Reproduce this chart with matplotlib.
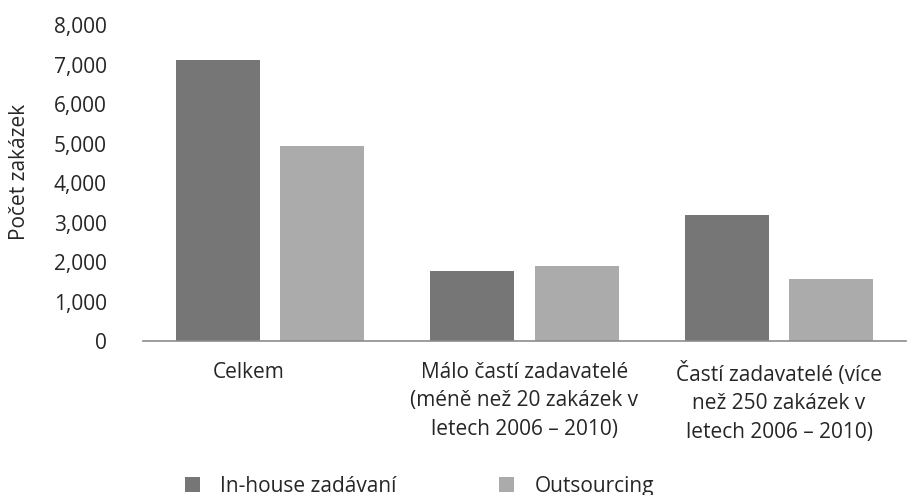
import matplotlib.pyplot as plt
import matplotlib.transforms as mtransforms
from matplotlib.ticker import FuncFormatter

categories = [
    "Celkem",
    "Málo častí zadavatelé\n(méně než 20 zakázek v\nletech 2006 – 2010)",
    "Častí zadavatelé (více\nnež 250 zakázek v\nletech 2006 – 2010)",
]
inhouse = [7120, 1780, 3180]
outsourcing = [4930, 1900, 1570]
series_labels = ["In-house zadávaní", "Outsourcing"]

plt.rcParams['font.family'] = ['Open Sans', 'DejaVu Sans']
text_color = "#262626"
fs = 15

fig = plt.figure(figsize=(9.09, 4.95), dpi=100)
ax = fig.add_axes([0.157, 0.311, 0.840, 0.6385])

x = list(range(len(categories)))
w = 0.33
off = 0.206
ax.bar([i - off for i in x], inhouse, width=w, color="#767676", label=series_labels[0])
ax.bar([i + off for i in x], outsourcing, width=w, color="#ababab", label=series_labels[1])

ax.set_xlim(-0.5, 2.5)
ax.set_ylim(0, 8000)
ax.set_yticks(range(0, 8001, 1000))
ax.yaxis.set_major_formatter(FuncFormatter(lambda v, p: f"{int(v):,}"))

for s in ["top", "right", "left"]:
    ax.spines[s].set_visible(False)
ax.spines["bottom"].set_color("#8c8c8c")
ax.spines["bottom"].set_linewidth(1.2)

ax.tick_params(axis="y", length=0, pad=26, labelsize=fs, labelcolor=text_color)
ax.tick_params(axis="x", length=0, pad=15, labelsize=fs, labelcolor=text_color)
ax.set_xticks(x)
ax.set_xticklabels(categories, linespacing=1.47)

# the first label sits left of its group in the original
lbl = ax.get_xticklabels()[0]
lbl.set_transform(lbl.get_transform() + mtransforms.ScaledTranslation(-0.21, 0, fig.dpi_scale_trans))

ax.set_ylabel("Počet zakázek", fontsize=fs, color=text_color)
ax.yaxis.set_label_coords(-0.148, 0.535)

fig.legend(loc="center left", bbox_to_anchor=(0.203, 0.018), ncol=2, frameon=False,
           fontsize=fs, handlelength=0.72, handleheight=0.72, handletextpad=1.0,
           columnspacing=4.9, borderpad=0, borderaxespad=0, labelcolor=text_color)

fig.savefig("out.png", dpi=100)
